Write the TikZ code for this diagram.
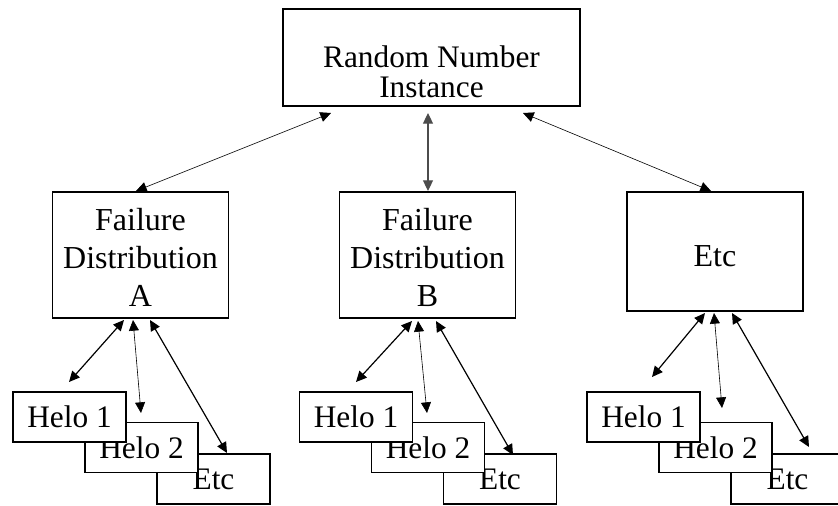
\documentclass[tikz,border=0pt]{standalone}
\usepackage{fontspec}
\setmainfont{Liberation Serif}
\usetikzlibrary{arrows.meta}
\usetikzlibrary{math}

\tikzset{
    box/.style={draw, fill=white, line width=0.8pt, align=center, inner sep=0pt},
    helobox/.style={box, minimum width=84.75pt, minimum height=37.5pt, font=\fontsize{23.5}{27}\selectfont},
    distbox/.style={box, minimum width=132pt, font=\fontsize{24}{28.5}\selectfont},
    link/.style={{Triangle[length=8pt,width=7.5pt]}-{Triangle[length=8pt,width=7.5pt]}, line width=0.45pt},
    boldlink/.style={link, line width=0.9pt},
}

\begin{document}
\begin{tikzpicture}[x=0.75pt, y=-0.75pt]

% Position settings (pixels, y pointing down)
\tikzmath{
    % Row heights
    \ytop = 57.5;
    \ydist = 255;
    \yhelofirst = 417;
    \yhelosecond = 447.5;
    \yhelothird = 479;
    % First box of each helo stack
    \xstackA = 69.5;
    \xstackB = 356;
    \xstackC = 643.5;
    % Shift between stacked boxes
    \xstep = 72;
}

\useasboundingbox (0,0) rectangle (838,506);

% Draws the top box (the strut pushes the two lines down a bit)
\node[box, minimum width=222.75pt, minimum height=72.75pt, font=\fontsize{23.5}{22.5}\selectfont] (rni) at (431.5,\ytop) {\rule{0pt}{38pt}Random Number\\Instance};

% Draws the distribution row
\node[distbox, minimum height=94.5pt] (distA) at (140.5,\ydist) {\rule{0pt}{20pt}Failure\\Distribution\\A};
\node[distbox, minimum height=94.5pt] (distB) at (427.5,\ydist) {\rule{0pt}{20pt}Failure\\Distribution\\B};
\node[distbox, minimum height=89.25pt] (distC) at (715,251.5) {\rule{0pt}{23pt}Etc};

\coordinate (rniA) at (331,113);
\coordinate (rniB) at (428,113);
\coordinate (rniC) at (523,113);
\coordinate (topA) at (136,191);
\coordinate (topB) at (428,191);
\coordinate (topC) at (711,191);
\draw[link] (rniA) -- (topA);
\draw[link, line width=0.8pt, black!70] (rniB) -- (topB);
\draw[link] (rniC) -- (topC);

% Draws the helo stacks, back to front
% Stack A
\node[helobox] (etcA) at (\xstackA+2*\xstep,\yhelothird) {Etc};
\node[helobox] (heloA2) at (\xstackA+\xstep,\yhelosecond) {Helo 2};
\node[helobox] (heloA1) at (\xstackA,\yhelofirst) {Helo 1};
\coordinate (A1) at (124,320);
\coordinate (A2) at (133,320);
\coordinate (A3) at (150,320);
\coordinate (A4) at (69,382);
\coordinate (A5) at (141,413);
\coordinate (A6) at (227,453);
\draw[boldlink] (A1) -- (A4);
\draw[link] (A2) -- (A5);
\draw[boldlink] (A3) -- (A6);

% Stack B
\node[helobox] (etcB) at (\xstackB+2*\xstep,\yhelothird) {Etc};
\node[helobox] (heloB2) at (\xstackB+\xstep,\yhelosecond) {Helo 2};
\node[helobox] (heloB1) at (\xstackB,\yhelofirst) {Helo 1};
\coordinate (B1) at (412,321);
\coordinate (B2) at (418,321);
\coordinate (B3) at (436,321);
\coordinate (B4) at (356,382);
\coordinate (B5) at (427,413);
\coordinate (B6) at (513,455);
\draw[boldlink] (B1) -- (B4);
\draw[link] (B2) -- (B5);
\draw[boldlink] (B3) -- (B6);

% Stack C
\node[helobox] (etcC) at (\xstackC+2*\xstep,\yhelothird) {Etc};
\node[helobox] (heloC2) at (\xstackC+\xstep,\yhelosecond) {Helo 2};
\node[helobox] (heloC1) at (\xstackC,\yhelofirst) {Helo 1};
\coordinate (C1) at (705,313);
\coordinate (C2) at (714,313);
\coordinate (C3) at (732,313);
\coordinate (C4) at (652,377);
\coordinate (C5) at (722,408);
\coordinate (C6) at (809,447);
\draw[boldlink] (C1) -- (C4);
\draw[link] (C2) -- (C5);
\draw[boldlink] (C3) -- (C6);

\end{tikzpicture}
\end{document}
